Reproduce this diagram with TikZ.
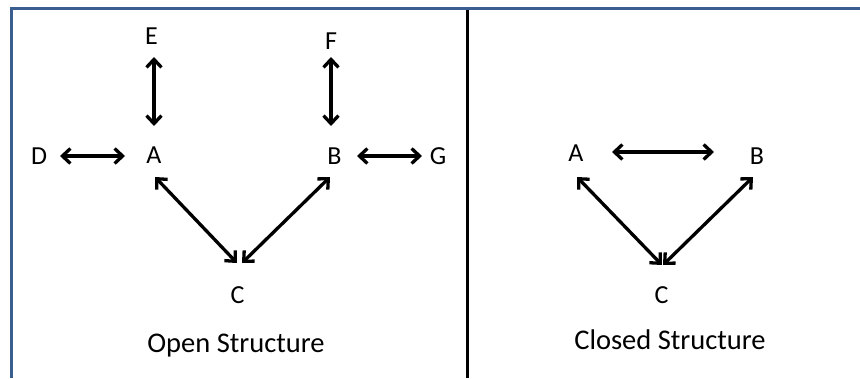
\documentclass[tikz,border=0pt]{standalone}
\usepackage{fontspec}
\setmainfont{Carlito}
\usetikzlibrary{arrows.meta}
\definecolor{framecol}{RGB}{59,94,145}
\tikzset{
  lbl/.style={inner sep=0pt, anchor=base, font=\fontsize{26}{26}\selectfont},
  captext/.style={inner sep=0pt, anchor=base, font=\fontsize{28.5}{30}\selectfont},
  arr/.style={line width=3.3pt, {Straight Barb[length=8pt,width=15pt]}-{Straight Barb[length=8pt,width=15pt]}},
}
\begin{document}
\begin{tikzpicture}[x=1pt,y=-1pt]
\useasboundingbox (0,0) rectangle (860,378);
% frame
\draw[framecol, line width=3pt] (11.5,378) -- (11.5,8.5) -- (860,8.5);
\draw[black, line width=3pt] (467,10) -- (467,378);
% open structure
\node[lbl] (E) at (151.5,44.5) {E};
\node[lbl] (D) at (39,164) {D};
\node[lbl] (A) at (154,163.5) {A};
\node[lbl] (F) at (331,49.5) {F};
\node[lbl] (B) at (334.5,164.5) {B};
\node[lbl] (G) at (438,164) {G};
\node[lbl] (C) at (237.5,303.5) {C};
\node[captext] (open) at (236,352) {Open Structure};
\draw[arr] ([shift={(2.5,12.5)}]E.base) -- ([shift={(0,-37.5)}]A.base);
\draw[arr] ([shift={(21,-8)}]D.base) -- ([shift={(-29,-7.5)}]A.base);
\draw[arr] ([shift={(0,7.5)}]F.base) -- ([shift={(-3.5,-38.5)}]B.base);
\draw[arr] ([shift={(22.5,-8.5)}]B.base) -- ([shift={(-16,-8)}]G.base);
\draw[arr] ([shift={(1,13.5)}]A.base) -- ([shift={(-0.5,-40.5)}]C.base);
\draw[arr] ([shift={(-4.5,12.5)}]B.base) -- ([shift={(4.5,-40.5)}]C.base);
% closed structure
\node[lbl] (A2) at (576,161.5) {A};
\node[lbl] (B2) at (757,164.5) {B};
\node[lbl] (C2) at (661.5,303.5) {C};
\node[captext] (closed) at (670,349) {Closed Structure};
\draw[arr] ([shift={(36,-9.5)}]A2.base) -- ([shift={(-43,-12.5)}]B2.base);
\draw[arr] ([shift={(1,15.5)}]A2.base) -- ([shift={(0.5,-38.5)}]C2.base);
\draw[arr] ([shift={(-4,12.5)}]B2.base) -- ([shift={(1.5,-38.5)}]C2.base);
\end{tikzpicture}
\end{document}
